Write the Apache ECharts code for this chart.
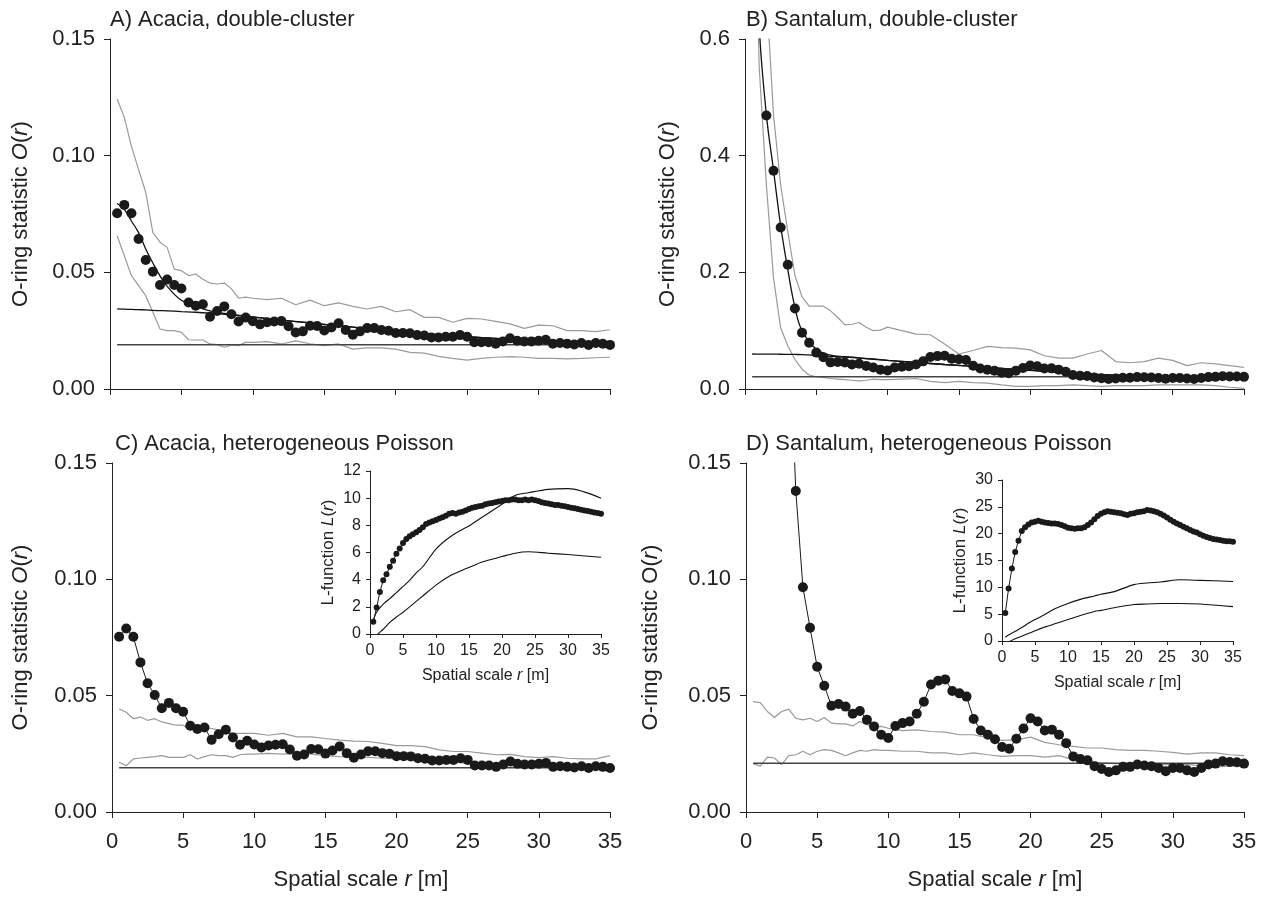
<!DOCTYPE html>
<html>
<head>
<meta charset="utf-8">
<script src="https://cdn.jsdelivr.net/npm/echarts@6/dist/echarts.min.js"></script>
<style>
  html, body { margin: 0; padding: 0; background: #fff; }
  #chart { width: 1263px; height: 897px; }
</style>
</head>
<body>
<div id="chart"></div>
<script>
// spatial scale r [m] grids
const rFine = [0.5, 1, 1.5, 2, 2.5, 3, 3.5, 4, 4.5, 5, 5.5, 6, 6.5, 7, 7.5, 8, 8.5, 9, 9.5, 10,
  10.5, 11, 11.5, 12, 12.5, 13, 13.5, 14, 14.5, 15, 15.5, 16, 16.5, 17, 17.5, 18, 18.5, 19, 19.5, 20,
  20.5, 21, 21.5, 22, 22.5, 23, 23.5, 24, 24.5, 25, 25.5, 26, 26.5, 27, 27.5, 28, 28.5, 29, 29.5, 30,
  30.5, 31, 31.5, 32, 32.5, 33, 33.5, 34, 34.5, 35];
const rEnv = [0.5, 1, 1.5, 2, 2.5, 3, 3.5, 4, 4.5, 5, 5.5, 6, 6.5, 7, 7.5, 8, 8.5, 9, 9.5, 10,
  11, 12, 13, 14, 15, 16, 17, 18, 19, 20, 21, 22, 23, 24, 25, 26, 27, 28, 29, 30, 31, 32, 33, 34, 35];
const rModel = [0.5, 1, 1.5, 2, 2.5, 3, 3.5, 4, 5, 6, 7, 8, 10, 12, 14, 17, 20, 25, 30, 35];
const rInset = [0.5, 1, 2, 3, 4, 5, 6, 7, 8, 10, 12, 14, 15, 17, 20, 22, 24, 27, 30, 35];

// observed O-ring statistic
const obsAcacia = [
  0.0753, 0.0789, 0.0753, 0.0643, 0.0553, 0.0503, 0.0446, 0.0469, 0.0446, 0.0431,
  0.0371, 0.0357, 0.0363, 0.0310, 0.0334, 0.0354, 0.0320, 0.0289, 0.0306, 0.0290,
  0.0277, 0.0286, 0.0289, 0.0291, 0.0269, 0.0242, 0.0247, 0.0271, 0.0270, 0.0251,
  0.0264, 0.0282, 0.0253, 0.0233, 0.0247, 0.0261, 0.0261, 0.0253, 0.0250, 0.0240,
  0.0240, 0.0239, 0.0231, 0.0229, 0.0221, 0.0221, 0.0224, 0.0224, 0.0231, 0.0224,
  0.0200, 0.0200, 0.0200, 0.0194, 0.0204, 0.0217, 0.0207, 0.0204, 0.0204, 0.0207,
  0.0211, 0.0194, 0.0197, 0.0194, 0.0191, 0.0197, 0.0189, 0.0197, 0.0194, 0.0189];
const obsSantalum = [
  0.80, 0.63, 0.469, 0.374, 0.277, 0.213, 0.138, 0.0966, 0.0792, 0.0624,
  0.0543, 0.0457, 0.0464, 0.0453, 0.0422, 0.0434, 0.0396, 0.0368, 0.0332, 0.0318,
  0.0370, 0.0382, 0.0389, 0.0422, 0.0474, 0.0548, 0.0564, 0.0570, 0.0520, 0.0510,
  0.0496, 0.0400, 0.0350, 0.0332, 0.0313, 0.0279, 0.0272, 0.0315, 0.0359, 0.0403,
  0.0389, 0.0350, 0.0354, 0.0332, 0.0296, 0.0239, 0.0228, 0.0222, 0.0197, 0.0185,
  0.0172, 0.0179, 0.0194, 0.0194, 0.0204, 0.0200, 0.0197, 0.0189, 0.0175, 0.0189,
  0.0189, 0.0179, 0.0172, 0.0189, 0.0204, 0.0208, 0.0218, 0.0215, 0.0214, 0.0208];

// simulation envelopes (on rEnv)
const upperA = [0.1243, 0.1164, 0.104, 0.094, 0.0843, 0.067, 0.0629, 0.0607, 0.0514, 0.0507,
  0.0486, 0.0493, 0.047, 0.0454, 0.045, 0.0454, 0.0429, 0.0389, 0.0394, 0.0389,
  0.0383, 0.0389, 0.0361, 0.0381, 0.0357, 0.0369, 0.0354, 0.0343, 0.0354, 0.0331,
  0.034, 0.0307, 0.0307, 0.0286, 0.0303, 0.030, 0.029, 0.0279, 0.026, 0.0274,
  0.0271, 0.025, 0.025, 0.0246, 0.0254];
const lowerA = [0.0657, 0.0571, 0.0486, 0.0443, 0.040, 0.0329, 0.0257, 0.025, 0.025, 0.0243,
  0.0211, 0.021, 0.021, 0.0193, 0.019, 0.0179, 0.0189, 0.0186, 0.020, 0.020,
  0.0203, 0.0193, 0.0206, 0.0194, 0.0186, 0.0193, 0.0171, 0.0176, 0.0176, 0.0171,
  0.0157, 0.0154, 0.014, 0.0131, 0.0124, 0.0131, 0.0136, 0.0139, 0.0136, 0.0131,
  0.0131, 0.0129, 0.0131, 0.0134, 0.0136];
const upperB = [1.2, 0.9, 0.68, 0.47, 0.35, 0.27, 0.195, 0.158, 0.142, 0.142,
  0.142, 0.134, 0.123, 0.11, 0.111, 0.114, 0.106, 0.10, 0.101, 0.106,
  0.10, 0.094, 0.093, 0.077, 0.06, 0.066, 0.073, 0.071, 0.07, 0.067,
  0.057, 0.053, 0.053, 0.06, 0.066, 0.047, 0.045, 0.047, 0.053, 0.049,
  0.04, 0.045, 0.043, 0.04, 0.037];
const lowerB = [1.0, 0.55, 0.35, 0.19, 0.105, 0.074, 0.051, 0.034, 0.024, 0.021,
  0.02, 0.018, 0.017, 0.016, 0.015, 0.014, 0.015, 0.017, 0.016, 0.016,
  0.017, 0.018, 0.013, 0.011, 0.013, 0.011, 0.01, 0.007, 0.0046, 0.0046,
  0.0057, 0.0057, 0.007, 0.0057, 0.0046, 0.0057, 0.0057, 0.0057, 0.007, 0.007,
  0.007, 0.007, 0.0057, 0.003, 0.001];
const upperC = [0.0443, 0.0429, 0.0401, 0.0408, 0.0394, 0.0401, 0.0387, 0.038, 0.0373, 0.0373,
  0.0352, 0.0366, 0.0362, 0.0359, 0.0352, 0.0345, 0.0338, 0.0338, 0.0338, 0.0338,
  0.033, 0.0338, 0.0323, 0.0323, 0.0316, 0.0309, 0.0305, 0.0303, 0.0295, 0.0285,
  0.0285, 0.0281, 0.0267, 0.026, 0.026, 0.0253, 0.0246, 0.0248, 0.0238, 0.0234,
  0.0238, 0.0231, 0.0228, 0.0228, 0.0242];
const lowerC = [0.0214, 0.0199, 0.0228, 0.0232, 0.0235, 0.0238, 0.0242, 0.0235, 0.0235, 0.0235,
  0.0246, 0.0228, 0.0238, 0.0246, 0.0242, 0.0242, 0.0235, 0.0246, 0.0249, 0.0249,
  0.0252, 0.0249, 0.0252, 0.0249, 0.0242, 0.0238, 0.0235, 0.0235, 0.0231, 0.0228,
  0.0224, 0.0221, 0.0217, 0.0214, 0.0209, 0.0207, 0.0207, 0.0199, 0.0199, 0.0195,
  0.0195, 0.0192, 0.019, 0.0192, 0.019];
const upperD = [0.0474, 0.047, 0.0432, 0.0406, 0.0432, 0.0442, 0.0403, 0.0396, 0.0403, 0.0389,
  0.0406, 0.0382, 0.0379, 0.0379, 0.037, 0.0389, 0.0375, 0.0365, 0.0368, 0.036,
  0.035, 0.0353, 0.0346, 0.0343, 0.0332, 0.0332, 0.0318, 0.0308, 0.031, 0.0322,
  0.0299, 0.0289, 0.0282, 0.0275, 0.0275, 0.0268, 0.0265, 0.0265, 0.0261, 0.0256,
  0.0249, 0.0254, 0.0254, 0.0246, 0.0242];
const lowerD = [0.0208, 0.0197, 0.0236, 0.0232, 0.0204, 0.0242, 0.0246, 0.0261, 0.0246, 0.0261,
  0.0268, 0.0265, 0.0254, 0.0242, 0.0254, 0.0265, 0.0261, 0.0268, 0.0265, 0.0265,
  0.0261, 0.0261, 0.0254, 0.0254, 0.0246, 0.0254, 0.0246, 0.0239, 0.0242, 0.0242,
  0.0236, 0.0242, 0.0225, 0.0218, 0.0211, 0.0208, 0.0208, 0.0208, 0.0204, 0.0204,
  0.0204, 0.0199, 0.0194, 0.0197, 0.0197];

// fitted double-cluster models (on rModel)
const modelA = [0.0795, 0.077, 0.072, 0.067, 0.060, 0.054, 0.0485, 0.044, 0.038, 0.0355,
  0.0335, 0.0324, 0.0309, 0.0295, 0.0283, 0.0265, 0.0248, 0.0224, 0.0206, 0.0195];
const largeA = [0.0343, 0.0342, 0.0341, 0.034, 0.0339, 0.0337, 0.0336, 0.0335, 0.0332, 0.0329,
  0.0325, 0.032, 0.0308, 0.0295, 0.0283, 0.0265, 0.0248, 0.0224, 0.0206, 0.0195];
const modelB = [0.95, 0.62, 0.47, 0.375, 0.28, 0.205, 0.14, 0.10, 0.068, 0.058,
  0.0555, 0.0535, 0.049, 0.0455, 0.042, 0.037, 0.032, 0.0245, 0.022, 0.021];
const largeB = [0.060, 0.0599, 0.0598, 0.0597, 0.0596, 0.0594, 0.0592, 0.059, 0.0575, 0.0558,
  0.0545, 0.053, 0.049, 0.0455, 0.042, 0.037, 0.032, 0.0245, 0.022, 0.021];

// CSR expectation (intensity)
const csrAcacia = 0.019;
const csrSantalum = 0.021;

// insets: L-function
const lObsAcacia = [
  0.9, 1.95, 3.1, 3.95, 4.4, 4.95, 5.4, 5.9, 6.3, 6.7,
  7.0, 7.2, 7.35, 7.5, 7.65, 7.85, 8.1, 8.2, 8.3, 8.4,
  8.5, 8.6, 8.7, 8.85, 8.9, 8.85, 8.95, 9.0, 9.1, 9.2,
  9.3, 9.35, 9.4, 9.45, 9.55, 9.6, 9.65, 9.7, 9.75, 9.8,
  9.85, 9.85, 9.9, 9.9, 9.85, 9.85, 9.9, 9.85, 9.9, 9.85,
  9.8, 9.7, 9.65, 9.6, 9.55, 9.5, 9.5, 9.45, 9.4, 9.35,
  9.3, 9.25, 9.2, 9.15, 9.1, 9.05, 9.0, 8.95, 8.9, 8.85];
const lObsSantalum = [
  5.2, 9.8, 13.5, 16.6, 18.7, 20.5, 21.2, 21.7, 22.1, 22.2,
  22.4, 22.2, 22.1, 22.0, 21.9, 21.9, 21.8, 21.6, 21.4, 21.1,
  21.0, 20.9, 21.0, 21.0, 21.2, 21.6, 22.1, 22.7, 23.3, 23.7,
  24.0, 24.2, 24.1, 24.0, 23.9, 23.8, 23.6, 23.5, 23.7, 23.8,
  24.0, 24.1, 24.2, 24.4, 24.3, 24.2, 24.0, 23.7, 23.4, 23.0,
  22.6, 22.2, 21.9, 21.6, 21.3, 21.0, 20.7, 20.4, 20.2, 19.9,
  19.6, 19.4, 19.2, 19.0, 18.9, 18.8, 18.7, 18.6, 18.6, 18.5];
const lUpperAcacia = [1.0, 1.6, 2.2, 2.6, 3.05, 3.5, 3.95, 4.5, 4.95, 6.25,
  7.1, 7.7, 7.95, 8.6, 9.55, 10.2, 10.4, 10.65, 10.7, 10.0];
const lLowerAcacia = [-0.5, -0.1, 0.35, 0.85, 1.25, 1.6, 2.0, 2.4, 2.8, 3.6,
  4.25, 4.7, 4.9, 5.3, 5.7, 5.95, 6.05, 5.95, 5.85, 5.65];
const lUpperSantalum = [0.7, 1.1, 1.8, 2.5, 3.3, 4.0, 4.6, 5.3, 6.0, 7.0,
  7.8, 8.4, 8.7, 9.2, 10.5, 10.8, 11.0, 11.4, 11.3, 11.1];
const lLowerSantalum = [-0.6, -0.2, 0.4, 0.9, 1.4, 1.9, 2.4, 2.8, 3.2, 4.0,
  4.8, 5.5, 5.7, 6.2, 6.8, 6.9, 7.0, 7.0, 6.9, 6.4];

const FONT = '"Liberation Sans", Arial, sans-serif';
const TXT = '#222';
const GRAYLINE = '#9a9a9a';
const DOT = '#1a1a1a';

function zip(xs, ys) {
  return xs.map((x, i) => [x, ys[i]]);
}

function xAxisFor(gridIndex, opts) {
  return {
    type: 'value', gridIndex: gridIndex,
    min: 0, max: 35, interval: 5,
    axisLine: { show: true, onZero: false, lineStyle: { color: '#222', width: 1 } },
    axisTick: { show: true, length: opts.tick, lineStyle: { color: '#222' } },
    splitLine: { show: false },
    axisLabel: { show: opts.labels, color: TXT, fontSize: opts.fs, fontFamily: FONT, margin: opts.margin },
    name: opts.name || '',
    nameLocation: 'middle',
    nameGap: opts.nameGap || 0,
    nameTextStyle: {
      color: TXT, fontSize: opts.fs, fontFamily: FONT,
      rich: { i: { fontStyle: 'italic', fontSize: opts.fs, fontFamily: FONT, color: TXT } }
    }
  };
}

function yAxisFor(gridIndex, opts) {
  const nfs = opts.nameFs || opts.fs;
  return {
    type: 'value', gridIndex: gridIndex,
    min: opts.min, max: opts.max, interval: opts.interval,
    axisLine: { show: true, onZero: false, lineStyle: { color: '#222', width: 1 } },
    axisTick: { show: true, length: opts.tick, lineStyle: { color: '#222' } },
    splitLine: { show: false },
    axisLabel: {
      color: TXT, fontSize: opts.fs, fontFamily: FONT, margin: opts.margin,
      formatter: v => v.toFixed(opts.digits)
    },
    name: opts.name,
    nameLocation: 'middle',
    nameGap: opts.nameGap,
    nameTextStyle: {
      color: TXT, fontSize: nfs, fontFamily: FONT,
      rich: { i: { fontStyle: 'italic', fontSize: nfs, fontFamily: FONT, color: TXT } }
    }
  };
}

function envLine(idx, ys) {
  return {
    type: 'line', xAxisIndex: idx, yAxisIndex: idx,
    data: zip(rEnv, ys), showSymbol: false, silent: true,
    lineStyle: { color: GRAYLINE, width: 1.2 }, z: 2
  };
}

function flatLine(idx, v) {
  return {
    type: 'line', xAxisIndex: idx, yAxisIndex: idx,
    data: [[0.5, v], [35, v]], showSymbol: false, silent: true,
    lineStyle: { color: '#444', width: 1.5 }, z: 3
  };
}

function modelLine(idx, ys) {
  return {
    type: 'line', xAxisIndex: idx, yAxisIndex: idx,
    data: zip(rModel, ys), showSymbol: false, smooth: 0.4, silent: true,
    lineStyle: { color: '#111', width: 1.3 }, z: 4
  };
}

function obsDots(idx, ys) {
  return {
    type: 'scatter', xAxisIndex: idx, yAxisIndex: idx,
    data: zip(rFine, ys), symbolSize: 10,
    itemStyle: { color: DOT, opacity: 1 }, z: 5
  };
}

function obsLine(idx, ys, size) {
  return {
    type: 'line', xAxisIndex: idx, yAxisIndex: idx,
    data: zip(rFine, ys), symbol: 'circle', symbolSize: size, showAllSymbol: true,
    itemStyle: { color: DOT, opacity: 1 }, lineStyle: { color: DOT, width: 1 }, z: 5
  };
}

function insetLine(idx, ys) {
  return {
    type: 'line', xAxisIndex: idx, yAxisIndex: idx,
    data: zip(rInset, ys), showSymbol: false, smooth: 0.3, silent: true,
    lineStyle: { color: '#111', width: 1.1 }, z: 4
  };
}

const panelTitle = (text, left, top) => ({
  text: text, left: left, top: top, padding: 0,
  textStyle: { color: TXT, fontSize: 22, fontWeight: 'normal', fontFamily: FONT }
});

const yNameO = 'O-ring statistic {i|O}({i|r})';
const yNameO2 = 'O-ring statistic O({i|r})';
const xName = 'Spatial scale {i|r} [m]';
const yNameL = 'L-function {i|L}({i|r})';

const option = {
  animation: false,
  backgroundColor: '#fff',
  title: [
    panelTitle('A) Acacia, double-cluster', 110, 9),
    panelTitle('B) Santalum, double-cluster', 746, 9),
    panelTitle('C) Acacia, heterogeneous Poisson', 115, 433),
    panelTitle('D) Santalum, heterogeneous Poisson', 746, 433)
  ],
  grid: [
    { left: 110, top: 39, width: 500, height: 350 },
    { left: 745, top: 39, width: 499, height: 350 },
    { left: 112, top: 463, width: 498, height: 349 },
    { left: 746, top: 463, width: 498, height: 349 },
    { left: 370, top: 471, width: 231, height: 163 },
    { left: 1002, top: 480, width: 231, height: 161 }
  ],
  xAxis: [
    xAxisFor(0, { labels: false, fs: 22, tick: 6, margin: 19 }),
    xAxisFor(1, { labels: false, fs: 22, tick: 6, margin: 19 }),
    xAxisFor(2, { labels: true, fs: 22, tick: 6, margin: 19, name: xName, nameGap: 57 }),
    xAxisFor(3, { labels: true, fs: 22, tick: 6, margin: 19, name: xName, nameGap: 57 }),
    xAxisFor(4, { labels: true, fs: 16, tick: 4, margin: 9, name: xName, nameGap: 34 }),
    xAxisFor(5, { labels: true, fs: 16, tick: 4, margin: 9, name: xName, nameGap: 34 })
  ],
  yAxis: [
    yAxisFor(0, { min: 0, max: 0.15, interval: 0.05, digits: 2, fs: 22, tick: 6, margin: 15, name: yNameO, nameGap: 78 }),
    yAxisFor(1, { min: 0, max: 0.6, interval: 0.2, digits: 1, fs: 22, tick: 6, margin: 15, name: yNameO2, nameGap: 66 }),
    yAxisFor(2, { min: 0, max: 0.15, interval: 0.05, digits: 2, fs: 22, tick: 6, margin: 15, name: yNameO, nameGap: 80 }),
    yAxisFor(3, { min: 0, max: 0.15, interval: 0.05, digits: 2, fs: 22, tick: 6, margin: 15, name: yNameO2, nameGap: 84 }),
    yAxisFor(4, { min: 0, max: 12, interval: 2, digits: 0, fs: 16, nameFs: 17, tick: 4, margin: 9, name: yNameL, nameGap: 33 }),
    yAxisFor(5, { min: 0, max: 30, interval: 5, digits: 0, fs: 16, nameFs: 17, tick: 4, margin: 9, name: yNameL, nameGap: 33 })
  ],
  series: [
    // A
    envLine(0, upperA), envLine(0, lowerA), flatLine(0, csrAcacia),
    modelLine(0, largeA), modelLine(0, modelA), obsDots(0, obsAcacia),
    // B
    envLine(1, upperB), envLine(1, lowerB), flatLine(1, csrSantalum),
    modelLine(1, largeB), modelLine(1, modelB), obsDots(1, obsSantalum),
    // C
    envLine(2, upperC), envLine(2, lowerC), flatLine(2, csrAcacia), obsLine(2, obsAcacia, 10),
    // D
    envLine(3, upperD), envLine(3, lowerD), flatLine(3, csrSantalum), obsLine(3, obsSantalum, 10),
    // C inset
    insetLine(4, lUpperAcacia), insetLine(4, lLowerAcacia), obsLine(4, lObsAcacia, 6),
    // D inset
    insetLine(5, lUpperSantalum), insetLine(5, lLowerSantalum), obsLine(5, lObsSantalum, 6)
  ]
};

const chart = echarts.init(document.getElementById('chart'));
chart.setOption(option);
</script>
</body>
</html>
